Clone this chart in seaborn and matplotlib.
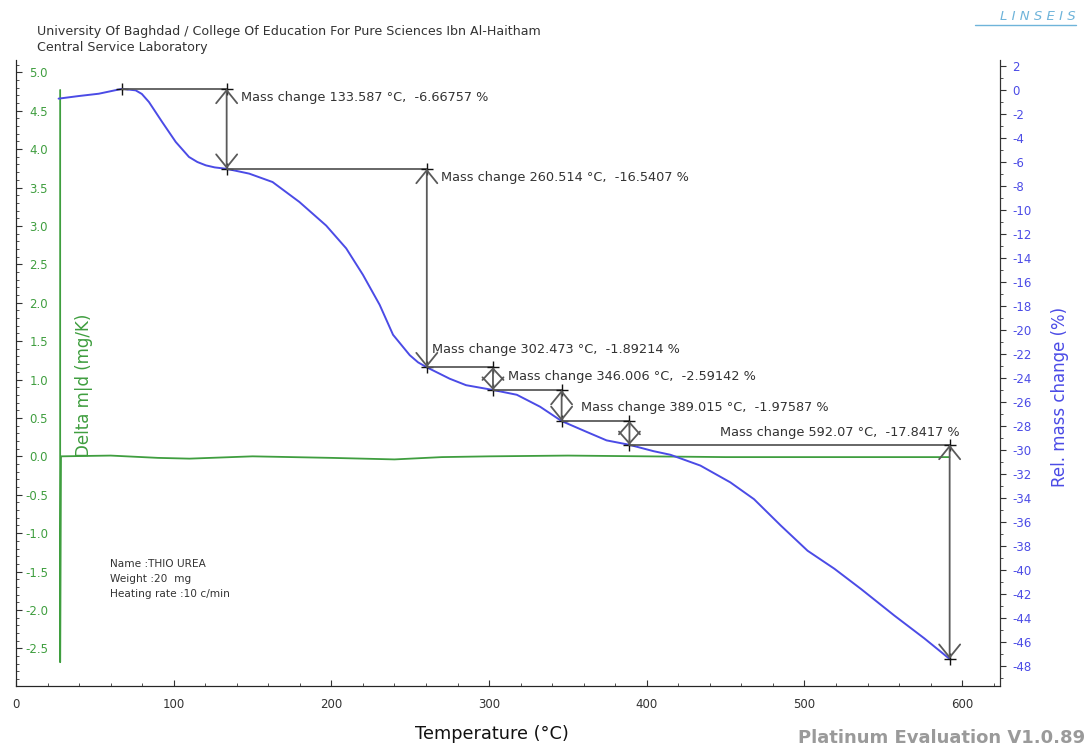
import numpy as np
import pandas as pd
import matplotlib
matplotlib.use("Agg")
import matplotlib.pyplot as plt
from matplotlib.ticker import MultipleLocator, FormatStrFormatter
import seaborn as sns

# TG curve (right axis, %)
tg_temp = [27, 40, 52.5, 67.3, 75.9, 79.8, 84.3, 92.7, 101.3, 109.7, 115, 120.4, 126, 133.6,
           147.9, 162.7, 179.7, 196.7, 209.4, 220, 230.6, 239.1, 249.7, 255, 260.5, 275, 285.4,
           302.5, 317.6, 332.4, 346, 362, 374.5, 389, 404.3, 415, 434, 453, 468, 485, 502, 519,
           536, 557, 576, 592]
tg_mass = [-0.72, -0.5, -0.31, 0.1, -0.03, -0.33, -1.0, -2.67, -4.33, -5.58, -6.0, -6.28,
           -6.45, -6.57, -6.97, -7.67, -9.33, -11.3, -13.2, -15.4, -17.9, -20.4, -22.1, -22.7,
           -23.11, -24.06, -24.6, -25.0, -25.4, -26.4, -27.59, -28.5, -29.2, -29.57, -30.1,
           -30.4, -31.3, -32.7, -34.1, -36.3, -38.4, -39.9, -41.6, -43.8, -45.7, -47.41]

# DTA curve (left axis, mg/K)
dta_temp = [28, 28, 28.5, 60, 90, 110, 150, 200, 240, 270, 300, 350, 400, 450, 500, 550, 592]
dta_val = [4.77, -2.68, 0.0, 0.01, -0.02, -0.03, 0.0, -0.02, -0.04, -0.01, 0.0, 0.01, 0.0,
           -0.01, -0.01, -0.01, -0.01]

# mass change steps
start_temp = 67.3
start_level = 0.1
step_temps = [133.587, 260.514, 302.473, 346.006, 389.015, 592.07]
step_changes = [-6.66757, -16.5407, -1.89214, -2.59142, -1.97587, -17.8417]

green = "#3f9e3f"
blue = "#4b4be6"
grey = "#5a5a5a"

sns.set_style("ticks")
plt.rcParams["font.family"] = ["DejaVu Sans"]
plt.rcParams["axes.unicode_minus"] = False

fig = plt.figure(figsize=(10.88, 7.49), dpi=100)
ax = fig.add_axes([16 / 1088, 1 - 686 / 749, 984 / 1088, 626 / 749])
ax2 = ax.twinx()

df_dta = pd.DataFrame({"T": dta_temp, "v": dta_val})
df_tg = pd.DataFrame({"T": tg_temp, "m": tg_mass})
ax.plot(df_dta["T"], df_dta["v"], color=green, lw=1.3)
sns.lineplot(data=df_tg, x="T", y="m", ax=ax2, color=blue, lw=1.4, sort=False)

ax.set_xlim(0, 624)
ax.set_ylim(-2.99, 5.16)
ax2.set_ylim(-49.67, 2.5)

ax.xaxis.set_major_locator(MultipleLocator(100))
ax.xaxis.set_minor_locator(MultipleLocator(20))
ax.yaxis.set_major_locator(MultipleLocator(0.5))
ax.yaxis.set_minor_locator(MultipleLocator(0.1))
ax2.yaxis.set_major_locator(MultipleLocator(2))
ax2.yaxis.set_minor_locator(MultipleLocator(1))

ax.spines["top"].set_visible(False)
ax2.spines["top"].set_visible(False)
for s in ["left", "bottom"]:
    ax.spines[s].set_color("#333333")
ax2.spines["right"].set_color("#333333")

ax.tick_params(axis="y", which="both", direction="in", colors="#333333", labelcolor=green,
               labelsize=8.5, pad=-23)
ax.tick_params(axis="y", which="major", length=4)
ax.tick_params(axis="y", which="minor", length=2)
for lbl in ax.get_yticklabels():
    lbl.set_horizontalalignment("right")
ax.yaxis.set_major_formatter(FormatStrFormatter("%.1f"))
ax.tick_params(axis="x", which="both", direction="in", colors="#333333", labelcolor="#333333",
               labelsize=8.5, pad=9)
ax.tick_params(axis="x", which="major", length=4)
ax.tick_params(axis="x", which="minor", length=2)
ax2.tick_params(axis="y", which="both", direction="out", colors="#333333", labelcolor=blue,
                labelsize=8.5, pad=5)
ax2.tick_params(axis="y", which="major", length=4)
ax2.tick_params(axis="y", which="minor", length=2)

ax.set_xlabel("Temperature (°C)", fontsize=12.8, color="#111111")
ax.xaxis.set_label_coords(0.484, -0.062)
ax.set_ylabel("Delta m|d (mg/K)", fontsize=12, color=green)
ax.yaxis.set_label_coords(0.078, 0.48)
ax2.set_ylabel("Rel. mass change (%)", fontsize=12, color=blue)
ax2.yaxis.set_label_coords(1.052, 0.462)

# mass change annotations
levels = start_level + np.concatenate([[0], np.cumsum(step_changes)])
starts = [start_temp] + step_temps[:-1]
text_offsets = [(10, -6.5, "cur"), (10, -6.5, "cur"), (4, 13, "prev"),
                (11, 10, "prev"), (14, 9.5, "prev"), (65, 9, "prev")]
px = 72 / 100  # points per pixel
ax2.plot([start_temp], [start_level], marker="+", color="#111111", ms=9, mew=1)
for i, (t, ch) in enumerate(zip(step_temps, step_changes)):
    y_top, y_bot = levels[i], levels[i + 1]
    ax2.plot([starts[i], t], [y_top, y_top], color=grey, lw=1.3)
    # arrow length in pixels to size the heads
    p1 = ax2.transData.transform((t, y_top))
    p2 = ax2.transData.transform((t, y_bot))
    alen = abs(p1[1] - p2[1])
    hl = min(13, alen / 2) * px
    hw = 10.5 * px
    ax2.annotate("", xy=(t, y_bot), xytext=(t, y_top),
                 arrowprops=dict(arrowstyle=f"<->,head_length={hl:.2f},head_width={hw:.2f}",
                                 color=grey, lw=1.3, shrinkA=0, shrinkB=0, mutation_scale=1))
    ax2.plot([t, t], [y_top, y_bot], ls="none", marker="+", color="#111111", ms=9, mew=1)
    dx, dy, ref = text_offsets[i]
    anchor = (t, y_top) if ref == "cur" else (starts[i], y_top)
    ax2.annotate(f"Mass change {t} °C,  {ch} %", xy=anchor, xytext=(dx, dy),
                 textcoords="offset points", fontsize=9.3, color="#333333",
                 ha="left", va="center")

# header / footer texts
fig.text(37 / 1088, 1 - 31 / 749, "University Of Baghdad / College Of Education For Pure Sciences Ibn Al-Haitham",
         fontsize=9.1, color="#333333", va="center")
fig.text(37 / 1088, 1 - 47 / 749, "Central Service Laboratory", fontsize=9.1, color="#333333", va="center")
fig.text(1076 / 1088, 1 - 16 / 749, "L I N S E I S", fontsize=9.5, color="#6fb4da", fontstyle="italic",
         ha="right", va="center")
fig.add_artist(plt.Line2D([975 / 1088, 1076 / 1088], [1 - 25 / 749, 1 - 25 / 749],
                          color="#6fb4da", lw=1))
fig.text(1085 / 1088, 1 - 738 / 749, "Platinum Evaluation V1.0.89", fontsize=13, color="#9a9a9a",
         fontweight="bold", ha="right", va="center")
ax.text(94 / 984, (686 - 579) / 626, "Name :THIO UREA\nWeight :20  mg\nHeating rate :10 c/min",
        transform=ax.transAxes, fontsize=7.6, color="#333333", va="center", linespacing=1.6)

fig.savefig("out.png", dpi=100)
